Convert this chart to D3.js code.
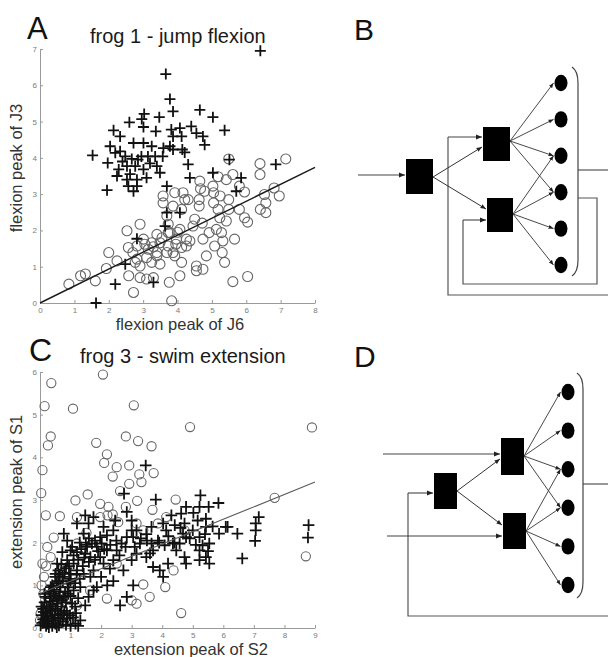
<!DOCTYPE html>
<html>
<head>
<meta charset="utf-8">
<script src="https://cdn.jsdelivr.net/npm/d3@7"></script>
<style>
  html, body { margin: 0; padding: 0; background: #fff; }
  svg { display: block; font-family: "Liberation Sans", Arial, Helvetica, sans-serif; }
</style>
</head>
<body>
<svg id="fig" width="608" height="657"></svg>
<script>
// ---------- Panel A: frog 1, jump flexion (J6 vs J3 flexion peaks) ----------
const jumpTicksX = [0, 1, 2, 3, 4, 5, 6, 7, 8];
const jumpTicksY = [0, 1, 2, 3, 4, 5, 6, 7];
const jumpPlus = [
  [6.41,6.95],[3.66,6.31],[3.78,5.62],[4.65,5.32],[5.03,5.12],[5.37,4.76],[3.03,5.21],[3.47,5.12],
  [3.87,5.28],[2.60,4.98],[2.96,5.07],[3.01,4.85],[3.37,4.73],[2.14,4.76],[2.33,4.59],[2.04,4.32],
  [2.72,4.41],[3.01,4.41],[3.25,4.32],[3.82,4.78],[3.87,4.59],[4.07,4.82],[4.12,4.59],[4.40,4.87],
  [4.55,4.68],[4.74,4.59],[4.79,4.36],[3.78,4.32],[3.59,4.27],[3.87,4.23],[4.14,4.23],[4.21,4.15],
  [2.33,4.18],[2.19,4.14],[2.48,4.04],[2.67,3.97],[2.95,4.04],[3.14,4.04],[3.35,4.04],[3.57,4.04],
  [1.53,4.07],[1.97,3.86],[2.29,3.68],[2.53,3.77],[2.77,3.77],[3.01,3.68],[3.40,3.77],[3.49,3.59],
  [2.24,3.50],[2.53,3.40],[2.82,3.40],[3.10,3.45],[2.57,3.22],[2.72,3.08],[2.82,3.22],[1.95,3.11],
  [5.51,3.95],[4.31,3.82],[4.36,3.45],[5.03,3.59],[5.85,3.45],[5.71,3.08],[6.86,3.82],[3.69,3.22],
  [3.69,2.49],[4.07,2.49],[3.64,2.12],[2.82,1.77],[2.48,1.07],[2.19,0.52],[3.30,0.57],[1.63,0.00],
  [2.62,3.55],[2.40,3.90],[2.85,3.95],[3.20,3.85]
];
const jumpCircle = [
  [7.15,3.97],[6.40,3.84],[6.40,3.54],[6.81,3.17],[6.96,2.95],[6.53,2.99],[6.57,2.76],[6.41,2.58],
  [6.57,2.49],[5.95,2.35],[6.04,2.23],[5.66,1.76],[5.61,0.59],[6.04,0.73],[5.49,3.97],[5.18,3.48],
  [5.42,3.40],[5.61,3.54],[5.95,3.06],[5.80,3.22],[5.49,2.85],[5.24,2.95],[5.05,3.04],[4.79,3.08],
  [4.65,3.36],[4.67,3.15],[4.63,2.85],[4.63,2.67],[5.05,2.76],[5.18,2.58],[5.49,2.58],[5.23,2.35],
  [5.42,2.26],[5.13,2.03],[5.28,1.94],[5.32,1.71],[5.30,1.39],[5.37,1.12],[4.92,1.94],[4.72,2.20],
  [5.08,1.57],[4.84,1.30],[4.74,1.76],[4.55,1.02],[4.55,0.89],[4.74,0.93],[4.26,1.76],[4.26,1.57],
  [4.45,2.12],[4.50,2.31],[4.21,2.85],[4.16,3.04],[3.92,3.04],[3.87,2.67],[4.12,2.58],[3.58,2.95],
  [3.58,2.76],[3.73,2.17],[3.78,1.94],[4.07,2.03],[3.97,1.76],[4.12,1.53],[3.87,1.39],[3.73,1.57],
  [3.49,1.66],[3.40,1.89],[3.25,1.66],[3.15,1.48],[3.01,1.76],[3.10,1.25],[3.49,1.07],[3.69,1.39],
  [3.40,1.39],[2.91,1.02],[2.77,1.12],[2.70,1.39],[2.57,1.53],[2.82,1.57],[2.53,1.99],[2.91,2.17],
  [3.69,2.40],[2.00,1.39],[2.24,1.16],[1.93,0.95],[1.61,0.61],[1.32,0.80],[1.18,0.75],[0.84,0.52],
  [2.58,0.75],[2.91,0.70],[3.10,0.66],[3.30,0.70],[3.76,0.57],[4.07,0.75],[2.72,0.29],[3.83,0.06],
  [2.82,1.21],[3.25,1.12],[3.40,1.30],[4.12,1.12],[3.92,1.30],[4.36,1.71],[3.73,1.94],[5.80,2.58],
  [5.03,3.22],[4.31,2.85],[3.55,1.80],[3.95,1.62],[3.30,1.55],[3.05,1.62],[4.00,1.95]
];
const jumpFit = [[0, 0], [8, 3.74]];

// ---------- Panel C: frog 3, swim extension (S2 vs S1 extension peaks) ----------
const swimTicksX = [0, 1, 2, 3, 4, 5, 6, 7, 8, 9];
const swimTicksY = [0, 1, 2, 3, 4, 5, 6];
const swimCircle = [
  [0.37,5.74],[0.15,5.20],[1.08,5.14],[2.06,5.94],[3.07,5.22],[4.91,4.71],[8.90,4.70],[0.35,4.49],
  [0.26,4.28],[1.84,4.34],[2.19,4.07],[2.10,3.87],[2.81,4.49],[3.21,4.38],[3.65,4.26],[2.92,3.81],
  [2.51,3.77],[2.38,3.55],[3.25,3.60],[3.32,3.42],[3.72,3.63],[0.08,3.70],[0.04,3.16],[1.16,2.99],
  [1.56,3.13],[2.62,3.21],[2.92,3.38],[2.81,2.84],[3.18,2.98],[1.97,2.91],[2.24,2.84],[2.56,2.48],
  [2.21,2.64],[3.68,2.77],[4.44,3.01],[7.68,3.05],[0.19,2.64],[0.65,2.62],[0.45,2.12],[0.08,1.51],
  [0.11,0.80],[1.52,2.23],[1.21,1.98],[4.37,1.35],[3.38,1.02],[4.10,0.96],[3.59,0.73],[2.19,0.69],
  [3.00,0.65],[3.16,0.57],[4.62,0.35],[8.70,1.68],[2.38,2.66],[1.97,2.60],[3.16,2.45],[3.86,2.45],
  [1.21,2.60],[0.24,1.90],[0.35,1.66],[0.13,1.20],[0.67,1.35],[0.51,0.96],[0.24,0.49],[1.21,0.53],
  [1.64,0.88],[4.73,2.29],[4.13,2.60],[2.51,1.51],[3.38,2.29],[0.13,0.10],[0.35,0.26],[0.02,0.34],
  [0.78,0.14],[0.56,0.34],[1.00,0.18],[0.00,0.18],[0.29,0.73],[0.89,0.49],[0.05,1.00],[0.20,1.45]
];
const swimPlus = [
  [3.46,3.81],[2.75,3.15],[3.79,3.01],[4.78,2.84],[5.25,3.11],[5.22,2.84],[5.84,2.93],[5.52,2.84],
  [4.62,2.68],[5.02,2.70],[4.30,2.64],[4.03,2.45],[4.41,2.41],[4.73,2.45],[5.16,2.52],[5.43,2.56],
  [5.43,2.37],[5.65,2.38],[6.08,2.37],[5.86,2.21],[6.14,2.37],[6.46,2.21],[7.16,2.60],[7.06,2.45],
  [7.06,2.29],[7.04,2.04],[6.62,1.63],[8.79,2.41],[8.77,2.12],[5.22,2.13],[5.32,1.94],[5.54,1.98],
  [5.22,1.82],[5.43,1.66],[5.54,1.51],[5.22,1.59],[4.78,2.13],[4.57,1.98],[4.35,1.98],[4.08,1.94],
  [3.86,2.05],[3.65,1.98],[3.70,1.82],[4.73,1.66],[4.46,1.82],[3.92,1.35],[3.70,1.43],[4.03,1.20],
  [3.48,1.66],[3.05,2.13],[3.27,1.98],[3.16,2.29],[3.48,2.20],[3.00,2.52],[2.84,2.72],[3.00,2.29],
  [2.84,2.13],[2.67,1.98],[2.51,1.82],[2.40,1.59],[2.29,1.39],[2.73,1.35],[3.00,1.59],[3.16,1.74],
  [3.05,1.00],[2.84,0.73],[2.62,0.53],[2.40,2.29],[2.19,2.17],[1.97,2.13],[2.02,1.98],[1.86,1.90],
  [1.70,1.98],[1.54,1.90],[1.48,1.74],[1.65,1.66],[1.97,1.66],[2.19,1.82],[2.08,1.51],[1.75,1.35],
  [1.86,0.96],[1.75,0.88],[1.59,0.73],[1.48,0.53],[1.21,2.45],[1.59,2.45],[1.75,2.60],[1.48,2.64],
  [0.89,2.05],[0.73,1.78],[1.00,1.82],[1.21,1.78],[0.56,1.51],[0.89,1.59],[1.10,1.51],[0.51,1.27],
  [0.73,1.20],[1.00,1.27],[1.21,1.35],[0.94,1.04],[0.67,0.96],[0.45,0.80],[0.78,0.73],[1.10,0.88],
  [1.32,0.96],[1.05,0.57],[0.56,0.57],[0.35,0.41],[0.67,0.34],[0.24,0.26],[0.45,0.18],[0.13,0.14],
  [0.89,0.22],[1.32,0.18],[0.02,0.06],[0.62,0.06],[0.29,0.02],[1.16,0.10],[4.68,2.21],[4.13,2.29],
  [5.00,2.29],[4.78,1.51],[4.19,1.51],[3.65,2.37],[2.46,2.52],[2.08,2.37],[1.43,2.21],[0.78,2.21],
  [0.18,0.73],[0.35,0.96],[1.43,1.27],[1.65,1.20],
  [0.05,0.30],[0.10,0.45],[0.20,0.35],[0.30,0.50],[0.40,0.30],[0.50,0.45],[0.60,0.25],[0.70,0.50],
  [0.80,0.40],[0.15,0.60],[0.35,0.70],[0.55,0.65],[0.45,0.90],[0.65,0.85],[0.85,0.60],[0.90,0.95],
  [1.00,0.75],[0.25,0.10],[0.50,0.10],[0.75,0.15],[1.00,0.05],[0.10,0.20],[0.40,0.05],[0.60,1.10],
  [0.80,1.30],[0.95,1.45],[0.70,1.50],[0.50,1.20],[1.10,1.70],[1.25,1.60],[1.35,1.85],[1.05,1.90],
  [1.30,2.00],[1.50,1.95],[1.60,2.10],[1.80,2.05],[1.90,1.80],[2.10,1.85],[2.30,1.95],[2.50,2.05],
  [2.60,1.70],[2.80,1.90],[3.10,1.90],[3.30,2.10],[3.50,2.05],[3.60,1.75],[3.90,2.00],[4.20,2.15],
  [4.40,2.00],[4.60,2.35],[4.90,2.10],[5.10,1.95],[5.40,2.20],[5.50,1.80],[1.00,1.10],[1.20,1.25],
  [1.40,1.45],[1.60,1.55],[1.80,1.60],[2.00,1.20],[2.20,1.00],[2.40,1.10],
  [0.08,0.12],[0.18,0.22],[0.28,0.15],[0.38,0.22],[0.48,0.30],[0.58,0.40],[0.68,0.22],[0.78,0.30],
  [0.88,0.35],[0.98,0.30],[1.08,0.25],[1.18,0.35],[0.12,0.38],[0.22,0.50],[0.32,0.62],[0.42,0.55],
  [0.52,0.75],[0.62,0.70],[0.72,0.65],[0.82,0.85],[0.92,0.80],[0.30,0.85],[0.40,1.00],[0.55,1.05],
  [0.65,1.25],[0.75,1.10],[0.85,1.40],[0.60,1.35],[0.20,0.05],[0.55,0.02],[0.85,0.08],[1.25,0.05],
  [0.05,0.50],[0.15,0.80],[1.15,0.50],[1.25,0.70],[0.95,1.15],[1.15,1.05],[1.30,1.15],[1.45,1.65]
];
const swimFit = [[0, 0.81], [9, 3.42]];

// ---------- Panels B and D: network diagrams (six motor pools each) ----------
const motorPools = [0, 1, 2, 3, 4, 5];
const upperTargets = [0, 1, 2, 3];   // pools driven by the upper unit
const lowerTargets = [2, 3, 4, 5];   // pools driven by the lower unit

const svg = d3.select("#fig");
svg.append("rect").attr("width", 608).attr("height", 657).attr("fill", "#fff");

const defs = svg.append("defs");
defs.append("marker")
  .attr("id", "arrow").attr("viewBox", "0 0 6 6").attr("refX", 6).attr("refY", 3)
  .attr("markerWidth", 5.5).attr("markerHeight", 5.5).attr("orient", "auto")
  .append("path").attr("d", "M0,0.6L6,3L0,5.4z").attr("fill", "#222");

function panelLetter(txt, x, y, size) {
  svg.append("text").attr("x", x).attr("y", y).attr("font-size", size)
    .attr("fill", "#111").text(txt);
}

function scatter(o) {
  const g = svg.append("g");
  const x = d3.scaleLinear().domain(o.xDomain).range(o.xRange);
  const y = d3.scaleLinear().domain(o.yDomain).range(o.yRange);

  const xAxis = g.append("g").attr("transform", `translate(0,${o.yRange[0]})`)
    .call(d3.axisBottom(x).tickValues(o.xTicks).tickFormat(d3.format("d"))
      .tickSizeInner(-3).tickSizeOuter(0).tickPadding(4));
  const yAxis = g.append("g").attr("transform", `translate(${o.xRange[0]},0)`)
    .call(d3.axisLeft(y).tickValues(o.yTicks).tickFormat(d3.format("d"))
      .tickSizeInner(-3).tickSizeOuter(0).tickPadding(3));
  [xAxis, yAxis].forEach(a => {
    a.select(".domain").attr("stroke", "#9a9a9a");
    a.selectAll(".tick line").attr("stroke", "#9a9a9a");
    a.selectAll(".tick text").attr("fill", "#7a7a7a").attr("font-size", 8)
      .attr("font-family", "Liberation Sans, Arial, sans-serif");
  });

  g.append("g").selectAll("circle").data(o.circles).join("circle")
    .attr("cx", d => x(d[0])).attr("cy", d => y(d[1])).attr("r", o.r)
    .attr("fill", "none").attr("stroke", "#666").attr("stroke-width", 1.1);

  const h = o.plusHalf;
  g.append("g").selectAll("path").data(o.plus).join("path")
    .attr("d", d => `M${x(d[0]) - h},${y(d[1])}H${x(d[0]) + h}M${x(d[0])},${y(d[1]) - h}V${y(d[1]) + h}`)
    .attr("stroke", "#111").attr("stroke-width", 1.8).attr("fill", "none");

  g.append("path").datum(o.fit)
    .attr("d", d3.line().x(d => x(d[0])).y(d => y(d[1])))
    .attr("stroke", o.fitColor).attr("stroke-width", o.fitWidth).attr("fill", "none");

  g.append("text").attr("x", o.title[1]).attr("y", o.title[2]).attr("font-size", 20)
    .attr("fill", "#1a1a1a").text(o.title[0]);
  g.append("text").attr("x", o.xLabel[1]).attr("y", o.xLabel[2]).attr("font-size", 16.5)
    .attr("text-anchor", "middle").attr("fill", "#333").text(o.xLabel[0]);
  g.append("text").attr("transform", `translate(${o.yLabel[1]},${o.yLabel[2]}) rotate(-90)`)
    .attr("font-size", 16.5).attr("text-anchor", "middle").attr("fill", "#333").text(o.yLabel[0]);
}

scatter({
  xDomain: [0, 8], xRange: [40, 315], yDomain: [0, 7], yRange: [303, 49],
  xTicks: jumpTicksX, yTicks: jumpTicksY,
  circles: jumpCircle, plus: jumpPlus, r: 5, plusHalf: 5.5,
  fit: jumpFit, fitColor: "#1a1a1a", fitWidth: 1.4,
  title: ["frog 1 - jump flexion", 90, 43],
  xLabel: ["flexion peak of J6", 180, 330],
  yLabel: ["flexion peak of J3", 22, 168]
});

scatter({
  xDomain: [0, 9], xRange: [40, 315], yDomain: [0, 6], yRange: [628, 372],
  xTicks: swimTicksX, yTicks: swimTicksY,
  circles: swimCircle, plus: swimPlus, r: 4.6, plusHalf: 5.8,
  fit: swimFit, fitColor: "#5a5a5a", fitWidth: 1.1,
  title: ["frog 3 - swim extension", 80, 363],
  xLabel: ["extension peak of S2", 191, 655],
  yLabel: ["extension peak of S1", 22, 492]
});

panelLetter("A", 27, 39, 31);
panelLetter("C", 29, 360.5, 32);
panelLetter("B", 354, 40, 30);
panelLetter("D", 354, 367, 30);

// Network diagram: a driving unit, two synergy units, six motor pools and feedback loops
function diagram(o) {
  const g = svg.append("g");
  const py = d3.scalePoint().domain(motorPools).range(o.poolRange);
  const arrow = (pts, color, w) => g.append("path")
    .attr("d", d3.line()(pts)).attr("fill", "none")
    .attr("stroke", color || "#333").attr("stroke-width", w || 1)
    .attr("marker-end", "url(#arrow)");
  const line = (pts, color, w) => g.append("path")
    .attr("d", d3.line()(pts)).attr("fill", "none")
    .attr("stroke", color || "#555").attr("stroke-width", w || 1.2);

  // feedback and input paths
  o.lines.forEach(p => line(p));
  o.arrowsIn.forEach(p => arrow(p, "#444", 1.1));

  // driving unit to the two synergy units
  arrow([o.srcOut, o.upIn], "#333");
  arrow([o.srcOut, o.loIn], "#333");

  // synergy units to motor pools
  upperTargets.forEach(k => arrow([o.upOut, [o.poolX - 7.5, py(k)]], "#333", 0.9));
  lowerTargets.forEach(k => arrow([o.loOut, [o.poolX - 7.5, py(k)]], "#333", 0.9));

  // boxes
  o.boxes.forEach(b => g.append("rect").attr("x", b[0]).attr("y", b[1])
    .attr("width", b[2]).attr("height", b[3]).attr("fill", "#000"));

  // motor pools
  g.append("g").selectAll("ellipse").data(motorPools).join("ellipse")
    .attr("cx", o.poolX).attr("cy", d => py(d)).attr("rx", 6.5).attr("ry", 8.2)
    .attr("fill", "#000");

  // bracket around the pools
  const [bx, bt, bb] = o.bracket;
  g.append("path")
    .attr("d", `M${bx - 6},${bt} Q${bx},${bt + 4} ${bx},${bt + 16} L${bx},${bb - 16} Q${bx},${bb - 4} ${bx - 6},${bb}`)
    .attr("fill", "none").attr("stroke", "#444").attr("stroke-width", 1.2);
}

diagram({
  poolX: 561, poolRange: [83, 265], bracket: [578, 67, 276],
  boxes: [[406, 159, 27, 35], [483, 127, 27, 34], [487, 198, 26, 34]],
  srcOut: [433, 177], upIn: [482, 147], loIn: [486, 209],
  upOut: [510, 141], loOut: [513, 214],
  lines: [
    [[578, 170], [608, 170]],
    [[578, 198], [597, 198], [597, 284], [463, 284], [463, 220]],
    [[608, 295], [448, 295], [448, 137]]
  ],
  arrowsIn: [
    [[358, 175], [405, 175]],
    [[463, 220], [486, 220]],
    [[448, 137], [482, 137]]
  ]
});

diagram({
  poolX: 568, poolRange: [392, 585], bracket: [583, 373, 598],
  boxes: [[434, 473, 23, 36], [501, 438, 23, 37], [503, 513, 23, 36]],
  srcOut: [457, 491], upIn: [500, 459], loIn: [502, 525],
  upOut: [524, 456], loOut: [526, 531],
  lines: [
    [[583, 484], [608, 484]],
    [[608, 616], [408, 616], [408, 493]]
  ],
  arrowsIn: [
    [[383, 454], [500, 454]],
    [[387, 536], [502, 536]],
    [[408, 493], [433, 493]]
  ]
});
</script>
</body>
</html>
